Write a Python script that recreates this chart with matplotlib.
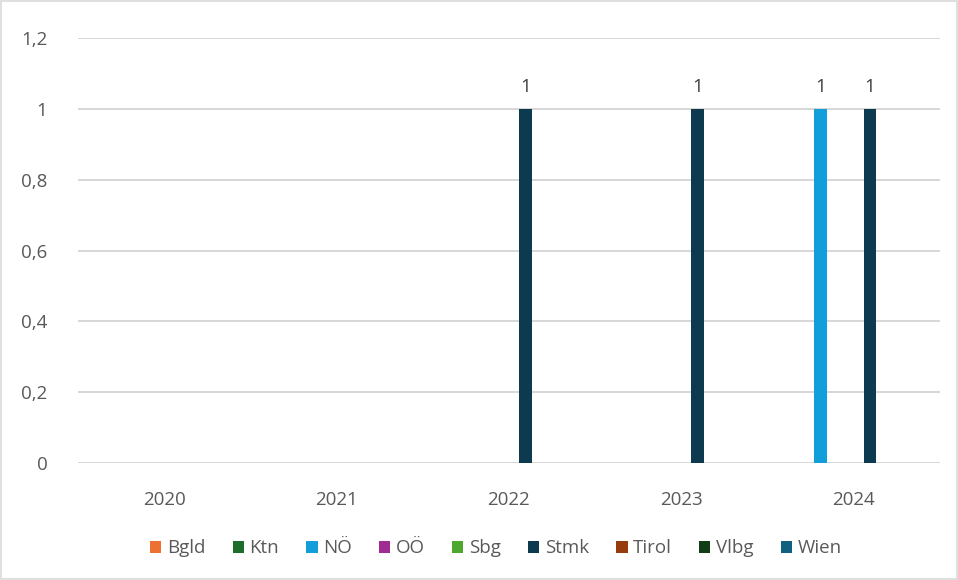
import numpy as np
import matplotlib.pyplot as plt
from matplotlib.patches import Rectangle

plt.rcParams['font.family'] = ['Open Sans', 'DejaVu Sans']

years = ['2020', '2021', '2022', '2023', '2024']
series = ['Bgld', 'Ktn', 'NÖ', 'OÖ', 'Sbg', 'Stmk', 'Tirol', 'Vlbg', 'Wien']
colors = ['#ed7231', '#1e6e2b', '#129ed8', '#a02b93', '#4ea72e', '#0e3a50', '#953b0e', '#113d17', '#10607f']

bgld = [0, 0, 0, 0, 0]
ktn = [0, 0, 0, 0, 0]
noe = [0, 0, 0, 0, 1]
ooe = [0, 0, 0, 0, 0]
sbg = [0, 0, 0, 0, 0]
stmk = [0, 0, 1, 1, 1]
tirol = [0, 0, 0, 0, 0]
vlbg = [0, 0, 0, 0, 0]
wien = [0, 0, 0, 0, 0]
values = [bgld, ktn, noe, ooe, sbg, stmk, tirol, vlbg, wien]

fig = plt.figure(figsize=(9.58, 5.8), dpi=100)
ax = fig.add_axes([0.0814, 0.2017, 0.8996, 0.7328])

x = np.arange(len(years))
slot = 16.4 / 172.6
width = 13 / 172.6
for i, (name, vals, c) in enumerate(zip(series, values, colors)):
    pos = x + (i - 4) * slot
    bars = ax.bar(pos, vals, width, color=c, label=name, zorder=3)
    for b, v in zip(bars, vals):
        if v != 0:
            ax.text(b.get_x() + b.get_width() / 2, v + 0.035, f"{v}", ha='center', va='bottom',
                    fontsize=13.5, color='#404040')

ax.set_xlim(-0.5, 4.5)
ax.set_ylim(0, 1.2)
yt = [0, 0.2, 0.4, 0.6, 0.8, 1.0, 1.2]
ax.set_yticks(yt)
ax.set_yticklabels([f"{v:g}".replace('.', ',') for v in yt])
ax.set_xticks(x)
ax.set_xticklabels(years)
ax.tick_params(length=0, labelsize=13.5, labelcolor='#595959')
ax.tick_params(axis='y', pad=22)
ax.tick_params(axis='x', pad=20)
ax.grid(axis='y', color='#d4d4d4', linewidth=1.3, zorder=0)
for s in ax.spines.values():
    s.set_visible(False)

ax.legend(loc='upper center', bbox_to_anchor=(0.485, -0.14), ncol=9, frameon=False,
          fontsize=13.5, handlelength=0.6, handleheight=0.6, handletextpad=0.3,
          columnspacing=1.45, labelcolor='#595959')

fig.patches.append(Rectangle((0.001, 0.002), 0.998, 0.996, transform=fig.transFigure,
                             fill=False, edgecolor='#d9d9d9', linewidth=1.2))

fig.savefig('out.png', dpi=100)
